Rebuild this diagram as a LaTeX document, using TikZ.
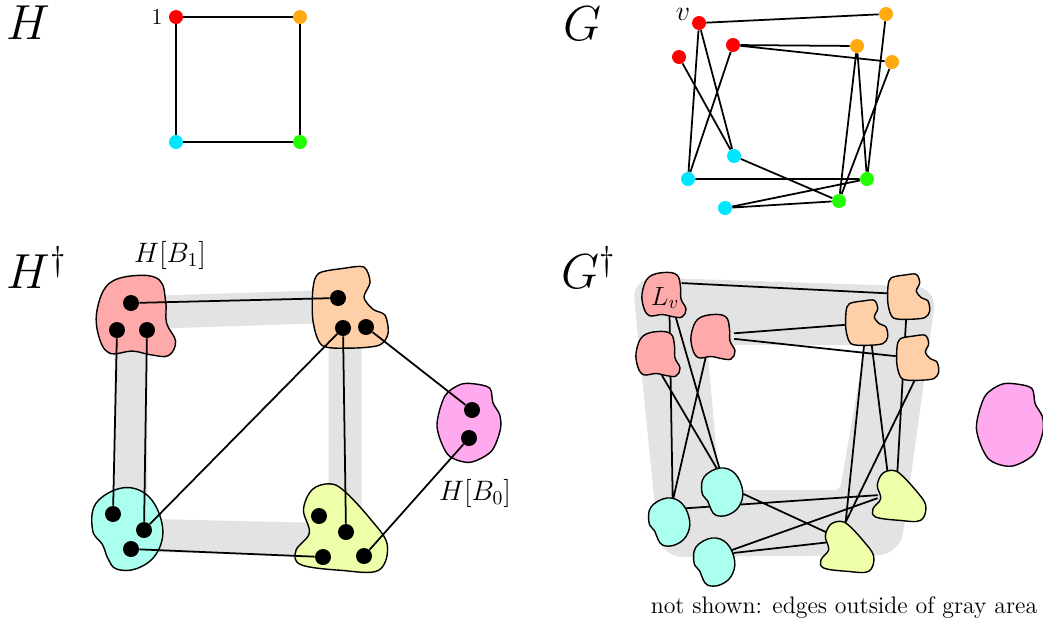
\documentclass[tikz,border=0pt]{standalone}
\usepackage{fix-cm}
\usepackage{tikz}
\definecolor{vred}{RGB}{255,0,0}
\definecolor{vorange}{RGB}{255,170,17}
\definecolor{vcyan}{RGB}{0,230,255}
\definecolor{vgreen}{RGB}{34,255,0}
\definecolor{blobred}{RGB}{255,170,170}
\definecolor{blobpeach}{RGB}{255,208,168}
\definecolor{blobcyan}{RGB}{170,255,238}
\definecolor{bloblime}{RGB}{238,255,170}
\definecolor{blobpink}{RGB}{255,170,238}
\tikzset{
  vtx/.style={circle,fill=#1,inner sep=0pt,minimum size=0.28cm},
  pt/.style={circle,fill=black,inner sep=0pt,minimum size=0.32cm},
  spot/.style={circle,inner sep=0pt,minimum size=0.84cm},
  link/.style={line width=1pt},
  band/.style={black!11,line width=0.66cm},
  blob/.style={line width=0.8pt,line join=round},
  biglabel/.style={font=\fontsize{28}{30}\selectfont,anchor=base west,inner sep=0pt},
  setlabel/.style={font=\fontsize{16}{18}\selectfont},
  redblob/.pic={\draw[blob,fill=blobred] plot[smooth cycle,tension=0.65] coordinates{(0,-22.5) (13,-20) (16.5,-8) (17,4) (22,14) (18,22) (8,21.5) (-2,19.5) (-15,20.5) (-21,10) (-21.5,-4) (-15,-18)};},
  peachblob/.pic={\draw[blob,fill=blobpeach] plot[smooth cycle] coordinates{(-16.7,-19.3) (-3.3,-22) (8.3,-22.7) (11.7,-14.3) (8.3,-6) (13.3,0.7) (20,4) (21.7,14) (16.7,20.7) (0,22.3) (-15,20.7) (-20,7.3) (-20,-11)};},
  cyanblob/.pic={\draw[blob,fill=blobcyan] plot[smooth cycle,tension=0.65] coordinates{(-2,-24) (13,-18.5) (20.7,-1) (17,14.5) (5.7,23) (-6,23.3) (-11,17.3) (-14.3,9) (-20,0.7) (-18,-15)};},
  limeblob/.pic={\draw[blob,fill=bloblime] plot[smooth cycle,tension=0.6] coordinates{(-6.7,-26.7) (1.7,-22.7) (16.7,-6.7) (26.7,8.3) (21.7,23.3) (0,23.3) (-23.3,20) (-26,11.7) (-18.3,1.7) (-21.7,-11.7) (-16.7,-23.3)};},
  pinkblob/.pic={\draw[blob,fill=blobpink] plot[smooth cycle] coordinates{(4,-39.3) (20.7,-35) (24,-20) (30.7,-8.3) (31.3,6.7) (22.3,28.3) (0.7,39.3) (-21,31.7) (-32,3.3) (-24.3,-26.7) (-9.3,-38.3)};}
}

\begin{document}
\begin{tikzpicture}[x=0.02cm,y=-0.02cm]
  \useasboundingbox (0,0) rectangle (1043,630);
  % H
  \node[biglabel] (labH) at (6,39) {$H$};
  \node[vtx=vred] (h1) at (176,17) {};
  \node[vtx=vorange] (h2) at (300,17) {};
  \node[vtx=vgreen] (h3) at (300,142) {};
  \node[vtx=vcyan] (h4) at (176,142) {};
  \node[font=\fontsize{13}{15}\selectfont,anchor=east] (one) at (h1.west) {$1$};
  \draw[link] (h1) -- (h2) -- (h3) -- (h4) -- (h1);
  % G
  \node[biglabel] (labG) at (563,40) {$G$};
  \node[vtx=vred] (gv) at (699,23) {};
  \node[vtx=vred] (gr2) at (733,45) {};
  \node[vtx=vred] (gr3) at (679,57) {};
  \node[vtx=vorange] (go1) at (886,14) {};
  \node[vtx=vorange] (go2) at (857,46) {};
  \node[vtx=vorange] (go3) at (892,62) {};
  \node[vtx=vcyan] (gc1) at (734,156) {};
  \node[vtx=vcyan] (gc2) at (688,179) {};
  \node[vtx=vcyan] (gc3) at (725,208) {};
  \node[vtx=vgreen] (gg1) at (867,179) {};
  \node[vtx=vgreen] (gg2) at (839,201) {};
  \node[font=\fontsize{16}{18}\selectfont,inner sep=0pt] (vlab) at (683,14) {$v$};
  \draw[link] (gv) -- (go1) (gv) -- (gc2) (gv) -- (gc1) (gr3) -- (gc1)
    (gr2) -- (gc2) (gr2) -- (go2) (gr2) -- (go3)
    (go1) -- (gg1) (go2) -- (gg1) (go2) -- (gg2) (go3) -- (gg2)
    (gc2) -- (gg1) (gc1) -- (gg2) (gc3) -- (gg1) (gc3) -- (gg2);
  % H dagger
  \node[biglabel] (labHd) at (6,288) {$H^\dagger$};
  \draw[band] (131,313) -- (345,306) -- (345,540) -- (131,535) -- cycle;
  \pic[scale=1.8] at (136,316) {redblob};
  \pic[scale=1.8] at (349,308) {peachblob};
  \pic[scale=1.72] at (127,529) {cyanblob};
  \pic[scale=1.73] at (341,530) {limeblob};
  \pic at (469,423) {pinkblob};
  \node[pt] (a1) at (131,303) {};
  \node[pt] (a2) at (117,330) {};
  \node[pt] (a3) at (147,330) {};
  \node[pt] (b1) at (338,298) {};
  \node[pt] (b2) at (343,328) {};
  \node[pt] (b3) at (366,327) {};
  \node[pt] (c1) at (113,514) {};
  \node[pt] (c2) at (144,530) {};
  \node[pt] (c3) at (131,549) {};
  \node[pt] (d1) at (319,516) {};
  \node[pt] (d2) at (346,532) {};
  \node[pt] (d3) at (323,557) {};
  \node[pt] (d4) at (364,556) {};
  \node[pt] (e1) at (472,410) {};
  \node[pt] (e2) at (469,438) {};
  \draw[link] (a1) -- (b1) (a2) -- (c1) (a3) -- (c2) (b2) -- (c2) (b2) -- (d2)
    (b3) -- (e1) (c3) -- (d3) (d4) -- (e2);
  \node[setlabel] (labB1) at (170,255) {$H[B_1]$};
  \node[setlabel] (labB0) at (475,493) {$H[B_0]$};
  % G dagger
  \node[biglabel] (labGd) at (561,288) {$G^\dagger$};
  \fill[black!11,even odd rule] [rounded corners=0.45cm] (632,277) -- (937,287) -- (900,555) -- (660,557) -- cycle
    [rounded corners=0.1cm] (707,345) -- (865,345) -- (840,490) -- (720,490) -- cycle;
  \node[spot] (Lv) at (664,295) {};
  \node[spot] (R2) at (713,337) {};
  \node[spot] (R3) at (658,354) {};
  \node[spot] (O1) at (908,297) {};
  \node[spot] (O2) at (866,323) {};
  \node[spot] (O3) at (917,358) {};
  \node[spot] (C1) at (722,492) {};
  \node[spot] (C2) at (669,522) {};
  \node[spot] (C3) at (714,562) {};
  \node[spot] (Y1) at (899,497) {};
  \node[spot] (Y2) at (847,548) {};
  \node[spot] (P) at (1010,425) {};
  \draw[link] (Lv.34) -- (O1.170) (Lv.285) -- (C2.80) (Lv.300) -- (C1.95)
    (R3.280) -- (C1.100) (R2.250) -- (C2.80) (R2.10) -- (O2.185) (R2.355) -- (O3.175)
    (O1.265) -- (Y1.95) (O2.285) -- (Y1.120) (O2.265) -- (Y2.95) (O3.265) -- (Y2.100)
    (C2.40) -- (Y1.175) (C1.355) -- (Y2.140) (C3.34) -- (Y1.183) (C3.25) -- (Y2.165);
  \pic at (Lv) {redblob};
  \pic at (R2) {redblob};
  \pic at (R3) {redblob};
  \pic at (O1) {peachblob};
  \pic at (O2) {peachblob};
  \pic at (O3) {peachblob};
  \pic at (C1) {cyanblob};
  \pic at (C2) {cyanblob};
  \pic at (C3) {cyanblob};
  \pic at (Y1) {limeblob};
  \pic at (Y2) {limeblob};
  \pic[scale=1.05] at (P) {pinkblob};
  \node[font=\fontsize{15}{17}\selectfont] (labLv) at (665,298) {$L_v$};
  \node[font=\fontsize{13.6}{15}\selectfont] (note) at (844,608) {not shown: edges outside of gray area};
\end{tikzpicture}
\end{document}
